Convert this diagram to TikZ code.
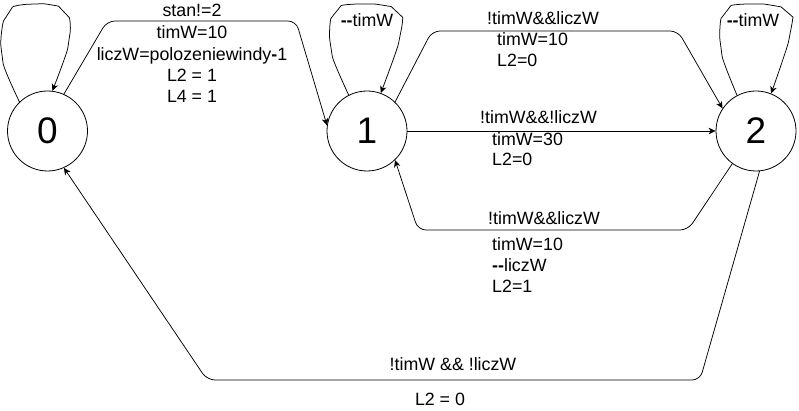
\documentclass[tikz,border=0pt]{standalone}
\usepackage{fontspec}
\setmainfont{Liberation Sans}
\usetikzlibrary{arrows.meta}
\begin{document}
\begin{tikzpicture}[x=1pt,y=1pt,
  st/.style={circle, draw, line width=0.8pt, minimum size=80pt, inner sep=0pt, font=\fontsize{37}{40}\selectfont},
  conn/.style={draw, line width=0.75pt, -{Stealth[length=7pt,width=6.5pt,inset=2pt]}, rounded corners=8pt},
  lbl/.style={inner sep=0pt, font=\fontsize{17.8}{20}\selectfont},
  looplbl/.style={lbl, fill=white, inner sep=1pt}]
\useasboundingbox (0,0) rectangle (799,-411);
% states
\node[st] (n0) at (47.5,-131) {0};
\node[st] (n1) at (367,-131) {1};
\node[st] (n2) at (756,-131) {2};
% self loops
\draw[conn] plot[smooth, tension=0.6] coordinates {(n0.134) (2,-55) (8,-14) (35,-4) (64,-12) (69,-40) (n0.83)};
\draw[conn] plot[smooth, tension=0.6] coordinates {(n1.117) (331,-48) (336,-12) (366,-4) (397,-12) (400,-36) (n1.70)};
\draw[conn] plot[smooth, tension=0.6] coordinates {(n2.118) (721,-48) (726,-12) (755,-4) (787,-12) (790,-34) (n2.68)};
\node[looplbl] (l1) at (367,-20) {\textbf{-{}-}timW};
\node[looplbl] (l2) at (753,-20) {\textbf{-{}-}timW};
% transitions
\draw[conn] (n0.66) -- (107,-21) -- (296,-21) -- (n1.172);
\draw[conn] (n1.46) -- (432,-31) -- (678,-31) -- (n2.146);
\draw[conn] (n1.east) -- (n2.west);
\draw[conn] (n2.234) -- (688,-230) -- (418,-230) -- (n1.-46);
\draw[conn] (n2.-85) -- (700,-380) -- (207,-380) -- (n0.-66);
% labels 0 -> 1
\node[lbl, anchor=base] (a1) at (192,-17) {stan!=2};
\node[lbl, anchor=base] (a2) at (192,-39) {timW=10};
\node[lbl, anchor=base] (a3) at (192,-61) {liczW=polozeniewindy\textbf{-}1};
\node[lbl, anchor=base] (a4) at (192,-82) {L2 = 1};
\node[lbl, anchor=base] (a5) at (192,-103) {L4 = 1};
% labels 1 -> 2 top
\node[lbl, anchor=base west] (b1) at (487,-25) {!timW\&\&liczW};
\node[lbl, anchor=base west] (b2) at (497,-46) {timW=10};
\node[lbl, anchor=base west] (b3) at (497,-67) {L2=0};
% labels 1 -> 2 straight
\node[lbl, anchor=base west] (c1) at (480,-124) {!timW\&\&!liczW};
\node[lbl, anchor=base west] (c2) at (492,-146) {timW=30};
\node[lbl, anchor=base west] (c3) at (492,-166) {L2=0};
% labels 2 -> 1
\node[lbl, anchor=base west] (d1) at (488,-225) {!timW\&\&liczW};
\node[lbl, anchor=base west] (d2) at (492,-251) {timW=10};
\node[lbl, anchor=base west] (d3) at (492,-272) {\textbf{-{}-}liczW};
\node[lbl, anchor=base west] (d4) at (492,-292) {L2=1};
% labels 2 -> 0
\node[lbl, anchor=base] (e1) at (453,-370) {!timW \&\& !liczW};
\node[lbl, anchor=base] (e2) at (440,-405) {L2 = 0};
\end{tikzpicture}
\end{document}
